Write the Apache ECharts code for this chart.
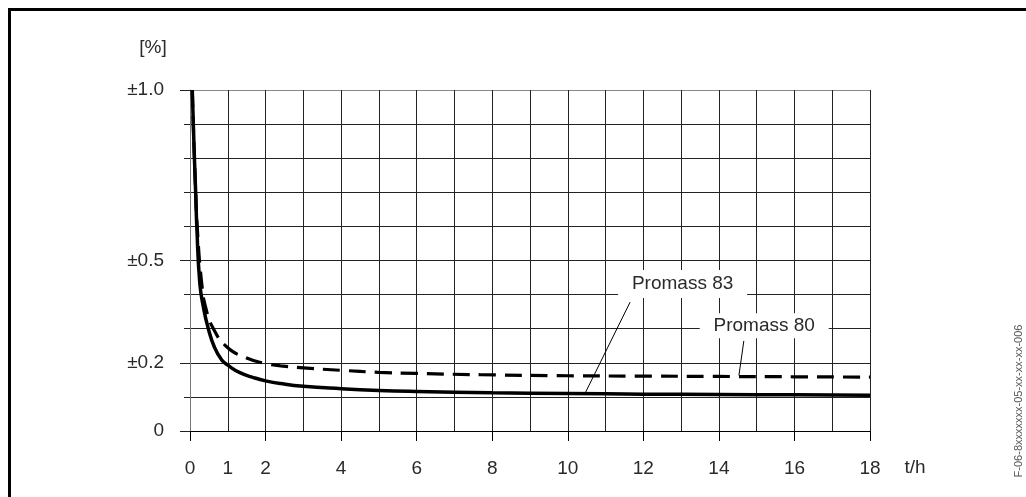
<!DOCTYPE html>
<html>
<head>
<meta charset="utf-8">
<script src="https://cdn.jsdelivr.net/npm/echarts@6/dist/echarts.min.js"></script>
<style>
html,body{margin:0;padding:0;background:#fff;}
#c{width:1026px;height:497px;}
</style>
</head>
<body>
<div id="c"></div>
<script>
// ---- data ----
const flow83 = [0.06, 0.106, 0.15, 0.18, 0.26, 0.36, 0.48, 0.65, 0.84, 1.0, 1.32, 1.7, 2.0, 2.4, 3, 4, 5, 6, 8, 10, 12, 14, 16, 18];
const err83  = [1.0, 0.835, 0.70, 0.60, 0.433, 0.36, 0.302, 0.245, 0.208, 0.193, 0.171, 0.156, 0.147, 0.139, 0.131, 0.124, 0.119, 0.116, 0.112, 0.110, 0.108, 0.107, 0.106, 0.105];
const flow80 = [0.06, 0.106, 0.15, 0.19, 0.31, 0.42, 0.61, 0.97, 1.5, 2.0, 2.4, 3, 4, 5, 6, 7.7, 10, 12, 14, 16, 18];
const err80  = [1.0, 0.835, 0.70, 0.60, 0.433, 0.36, 0.302, 0.247, 0.214, 0.198, 0.191, 0.185, 0.178, 0.172, 0.169, 0.165, 0.162, 0.161, 0.160, 0.159, 0.158];
const xLabelValues = [0, 1, 2, 4, 6, 8, 10, 12, 14, 16, 18];
const xTickValues = [0, 2, 4, 6, 8, 10, 12, 14, 16, 18];
const yLabelValues = [0, 0.2, 0.5, 1.0];
const seriesNames = ['Promass 83', 'Promass 80'];
const yUnit = '[%]';
const xUnit = 't/h';
const figureCode = 'F-06-8xxxxxxx-05-xx-xx-xx-006';

// ---- layout for annotations (data-space anchors) ----
const annotations = [
  { text: seriesNames[0], label: [13.04, 0.431], box: [129, 28], from: [11.65, 0.378], to: [10.46, 0.111] },
  { text: seriesNames[1], label: [15.2, 0.309], box: [129, 25], from: [14.66, 0.264], to: [14.53, 0.163] }
];

const FONT = '"Liberation Sans", Arial, sans-serif';
const TXT = '#2a2a2a';
const FS = 19;

const chart = echarts.init(document.getElementById('c'), null, { renderer: 'canvas' });

const gridColors = [];
for (let i = 0; i < 10; i++) gridColors.push('#222');
gridColors.push('#888');

const option = {
  animation: false,
  backgroundColor: '#fff',
  grid: { left: 190, right: 156, top: 90, bottom: 66 },
  xAxis: [
    {
      type: 'value', min: 0, max: 18, interval: 1,
      axisLine: { show: true, lineStyle: { color: '#000', width: 1 } },
      axisTick: { show: false },
      axisLabel: { show: false },
      splitLine: { show: true, lineStyle: { color: '#222', width: 1 } }
    },
    {
      type: 'value', min: 0, max: 18, interval: 1, position: 'bottom',
      axisLine: { show: false },
      axisTick: { show: true, length: 10, customValues: xTickValues, lineStyle: { color: '#000', width: 1 } },
      axisLabel: { customValues: xLabelValues, margin: 28, color: TXT, fontSize: FS, fontFamily: FONT },
      splitLine: { show: false }
    }
  ],
  yAxis: [
    {
      type: 'value', min: 0, max: 1, interval: 0.1,
      axisLine: { show: true, lineStyle: { color: '#777', width: 1 } },
      axisTick: { show: true, length: 6, lineStyle: { color: '#222', width: 1 } },
      axisLabel: { show: false },
      splitLine: { show: true, lineStyle: { color: gridColors, width: 1 } }
    },
    {
      type: 'value', min: 0, max: 1, interval: 0.1, position: 'left',
      axisLine: { show: false },
      axisTick: { show: true, length: 10, customValues: yLabelValues, lineStyle: { color: '#222', width: 1 } },
      axisLabel: {
        customValues: yLabelValues, margin: 26, color: TXT, fontSize: FS, fontFamily: FONT,
        formatter: v => (Math.abs(v) < 1e-9 ? '0' : '±' + Number(v).toFixed(1))
      },
      splitLine: { show: false }
    }
  ],
  series: [
    {
      name: seriesNames[0], type: 'line', xAxisIndex: 0, yAxisIndex: 0, symbol: 'none',
      smooth: 0.5,
      data: flow83.map((q, i) => [q, err83[i]]),
      lineStyle: { color: '#000', width: 3.5 }, z: 5
    },
    {
      name: seriesNames[1], type: 'line', xAxisIndex: 0, yAxisIndex: 0, symbol: 'none',
      smooth: 0.5,
      data: flow80.map((q, i) => [q, err80[i]]),
      lineStyle: { color: '#000', width: 3.2, type: [17, 9] }, z: 4
    }
  ]
};
chart.setOption(option);

function px(p) { return chart.convertToPixel({ xAxisIndex: 0, yAxisIndex: 0 }, p); }

const g = [
  { type: 'rect', shape: { x: 9.5, y: 9.5, width: 1200, height: 700 }, style: { fill: 'none', stroke: '#000', lineWidth: 3 }, z: 100 },
  { type: 'text', x: 153, y: 48, style: { text: yUnit, font: FS + 'px ' + FONT, fill: TXT, textAlign: 'center', textVerticalAlign: 'middle' }, z: 100 },
  { type: 'text', x: 915, y: 468, style: { text: xUnit, font: FS + 'px ' + FONT, fill: TXT, textAlign: 'center', textVerticalAlign: 'middle' }, z: 100 },
  { type: 'text', x: 1019, y: 401, rotation: Math.PI / 2, style: { text: figureCode, font: '11px ' + FONT, fill: '#555', textAlign: 'center', textVerticalAlign: 'middle' }, z: 100 }
];
annotations.forEach(a => {
  const c = px(a.label);
  const f = px(a.from);
  const t = px(a.to);
  g.push({ type: 'rect', shape: { x: c[0] - a.box[0] / 2, y: c[1] - a.box[1] / 2, width: a.box[0], height: a.box[1] }, style: { fill: '#fff' }, z: 50 });
  g.push({ type: 'text', x: c[0], y: c[1], style: { text: a.text, font: FS + 'px ' + FONT, fill: TXT, textAlign: 'center', textVerticalAlign: 'middle' }, z: 51 });
  g.push({ type: 'line', shape: { x1: f[0], y1: f[1], x2: t[0], y2: t[1] }, style: { stroke: '#000', lineWidth: 1 }, z: 51 });
});
chart.setOption({ graphic: g });
</script>
</body>
</html>
